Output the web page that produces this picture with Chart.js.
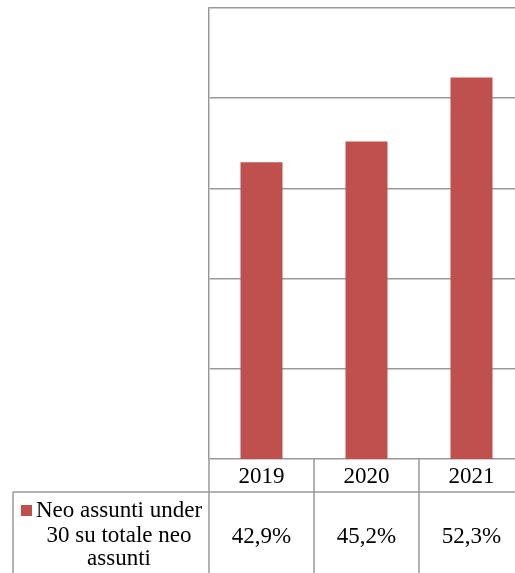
<!DOCTYPE html>
<html>
<head>
<meta charset="utf-8">
<script src="https://cdn.jsdelivr.net/npm/chart.js@4/dist/chart.umd.min.js"></script>
<style>
  html, body { margin:0; padding:0; background:#fff; overflow:hidden; }
  #wrap { position:relative; width:525px; height:573px; }
</style>
</head>
<body>
<div id="wrap"><canvas id="chart"></canvas></div>
<script>
// data
var YEARS = ['2019', '2020', '2021'];
var SHARE = [42.9, 45.2, 52.3];
var SHARE_LABELS = ['42,9%', '45,2%', '52,3%'];
var SERIES_LINES = ['Neo assunti under', '30 su totale neo', 'assunti'];

var BAR_RED = '#C0504D';
var GRID = '#999999';
var FONT = '23px "Liberation Serif", serif';

// data table under the plot (Excel style)
var tablePlugin = {
  id: 'dataTable',
  afterDraw: function(chart) {
    var ctx = chart.ctx, ca = chart.chartArea, xs = chart.scales.x;
    var n = YEARS.length;
    var w = (ca.right - ca.left) / n;
    var headBottom = ca.bottom + 33;
    var bottom = chart.height;
    var tableLeft = 13;

    ctx.save();
    ctx.strokeStyle = GRID;
    ctx.lineWidth = 1.5;
    ctx.beginPath();
    for (var i = 0; i <= n; i++) {
      var bx = ca.left + i * w;
      ctx.moveTo(bx, ca.bottom);
      ctx.lineTo(bx, bottom);
    }
    ctx.moveTo(tableLeft, headBottom);
    ctx.lineTo(tableLeft, bottom);
    ctx.moveTo(tableLeft, headBottom);
    ctx.lineTo(ca.right, headBottom);
    ctx.stroke();

    ctx.fillStyle = '#000';
    ctx.font = FONT;
    ctx.textAlign = 'center';
    ctx.textBaseline = 'alphabetic';
    YEARS.forEach(function(y, i) {
      var cx = xs.getPixelForValue(i);
      ctx.fillText(y, cx, ca.bottom + 24);
      ctx.fillText(SHARE_LABELS[i], cx, headBottom + 51);
    });

    // series legend cell
    ctx.fillStyle = BAR_RED;
    ctx.fillRect(21, headBottom + 13, 11, 11);
    ctx.fillStyle = '#000';
    ctx.textAlign = 'left';
    ctx.fillText(SERIES_LINES[0], 36, headBottom + 25);
    ctx.textAlign = 'center';
    ctx.fillText(SERIES_LINES[1], 119, headBottom + 50);
    ctx.fillText(SERIES_LINES[2], 119, headBottom + 73);
    ctx.restore();
  }
};

new Chart(document.getElementById('chart'), {
  type: 'bar',
  data: {
    labels: YEARS,
    datasets: [{
      label: SERIES_LINES.join(' '),
      data: SHARE,
      backgroundColor: BAR_RED,
      borderWidth: 0,
      categoryPercentage: 1,
      barPercentage: 0.4
    }]
  },
  options: {
    responsive: true, maintainAspectRatio: false,
    animation: false,
    layout: { padding: { left: 209, right: 1, top: 8, bottom: 114 } },
    plugins: { legend: { display: false }, tooltip: { enabled: false } },
    scales: {
      x: { display: false },
      y: {
        min: 10, max: 60,
        ticks: { display: false, stepSize: 10 },
        grid: { color: GRID, lineWidth: 1.5, drawTicks: false },
        border: { display: true, color: GRID, width: 1.5 }
      }
    }
  },
  plugins: [tablePlugin]
});
</script>
</body>
</html>
